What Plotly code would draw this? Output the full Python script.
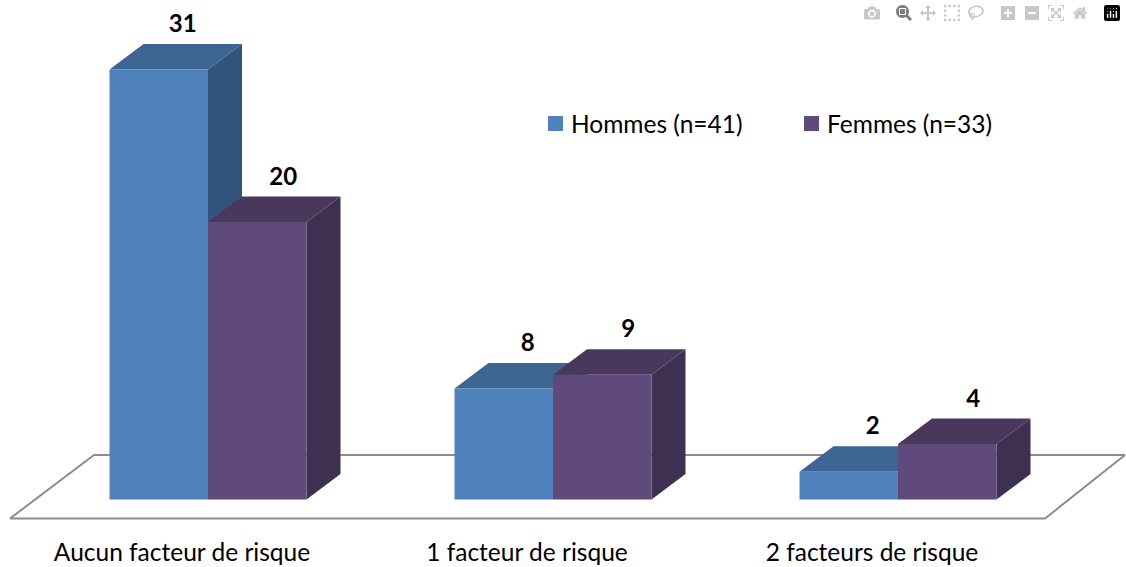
import plotly.graph_objects as go

# données
categories = ["Aucun facteur de risque", "1 facteur de risque", "2 facteurs de risque"]
hommes = [31, 8, 2]
femmes = [20, 9, 4]
noms = ["Hommes (n=41)", "Femmes (n=33)"]

# couleurs : face avant, dessus, côté
bleus = ["#4f81bd", "#3c6594", "#31547c"]
violets = ["#604a7b", "#4a385c", "#3e3050"]

W, H = 1126, 567
px_cat = 345.0     # pixels par catégorie
px_val = 13.87     # pixels par unité
x0_px, y0_px = 208.0, 499.5
larg = 98.5 / px_cat
dx = 34 / px_cat
dy = 25.5 / px_val
y_bas = -(535 - y0_px) / px_val


def face(fig, xs, ys, couleur, nom=None):
    fig.add_trace(go.Scatter(
        x=xs, y=ys, mode="lines", fill="toself", fillcolor=couleur,
        line=dict(width=0, color=couleur), showlegend=False,
        hoverinfo="skip" if nom is None else "text", text=nom,
    ))


def barre(fig, x, v, couleurs):
    # côté, dessus puis face avant
    face(fig, [x + larg, x + larg + dx, x + larg + dx, x + larg, x + larg],
         [0, dy, v + dy, v, 0], couleurs[2])
    face(fig, [x, x + dx, x + larg + dx, x + larg, x],
         [v, v + dy, v + dy, v, v], couleurs[1])
    face(fig, [x, x + larg, x + larg, x, x], [0, 0, v, v, 0], couleurs[0], str(v))


fig = go.Figure()

# le plancher
fig.add_trace(go.Scatter(
    x=[-198 / px_cat, 837 / px_cat, 917 / px_cat, -114 / px_cat, -198 / px_cat],
    y=[-19 / px_val, -19 / px_val, 44.5 / px_val, 44.5 / px_val, -19 / px_val],
    mode="lines", line=dict(color="#8c8c8c", width=2),
    showlegend=False, hoverinfo="skip",
))

for i in range(len(categories)):
    barre(fig, i - larg, hommes[i], bleus)
    barre(fig, i, femmes[i], violets)

# valeurs au dessus des barres
fig.add_trace(go.Scatter(
    x=[i - larg / 2 + 24 / px_cat for i in range(3)] + [i + larg / 2 + 26 / px_cat for i in range(3)],
    y=[v + dy + 6 / px_val for v in hommes + femmes],
    text=[str(v) for v in hommes + femmes],
    mode="text", textposition="top center",
    textfont=dict(family="Lato", size=24, color="black", weight="bold"),
    showlegend=False, hoverinfo="skip",
))

# légende
legende = [(548, bleus[0], noms[0]), (804, violets[0], noms[1])]
shapes = []
annots = []
for px, coul, nom in legende:
    shapes.append(dict(type="rect", xref="paper", yref="paper",
                       x0=px / W, x1=(px + 15) / W, y0=1 - 131 / H, y1=1 - 116 / H,
                       fillcolor=coul, line_width=0))
    annots.append(dict(text=nom, xref="paper", yref="paper", x=(px + 21) / W, y=1 - 123 / H,
                       xanchor="left", yanchor="middle", showarrow=False,
                       font=dict(family="Lato", size=24.5, color="black")))

fig.update_layout(
    width=W, height=H, margin=dict(l=0, r=0, t=0, b=0),
    plot_bgcolor="white", paper_bgcolor="white",
    font=dict(family="Lato", size=24.5, color="black"),
    shapes=shapes, annotations=annots, showlegend=False,
)
fig.update_xaxes(
    domain=[0, 1], range=[-x0_px / px_cat, (W - x0_px) / px_cat],
    tickmode="array", tickvals=[i - 26 / px_cat for i in range(3)], ticktext=categories,
    showgrid=False, zeroline=False, showline=False, ticks="",
)
fig.update_yaxes(
    domain=[1 - 535 / H, 1], range=[y_bas, y0_px / px_val],
    showgrid=False, zeroline=False, showline=False, showticklabels=False,
)

# pas de marge autour de la page
fig.write_html("out.html", post_script="document.body.style.margin='0';")
